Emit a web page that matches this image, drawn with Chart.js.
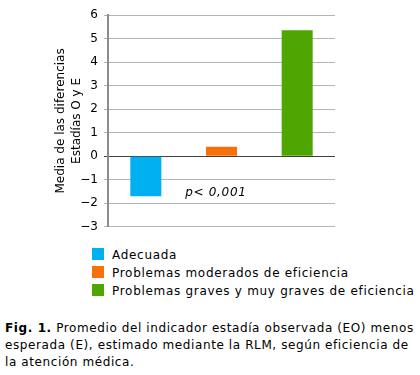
<!DOCTYPE html>
<html>
<head>
<meta charset="utf-8">
<script src="https://cdn.jsdelivr.net/npm/chart.js@4.4.0/dist/chart.umd.min.js"></script>
<style>
  body { margin: 0; background: #fff; font-family: "DejaVu Sans", Verdana, sans-serif; }
  #wrap { position: relative; width: 420px; height: 375px; overflow: hidden; }
  #box { position: absolute; left: 0; top: 0; width: 420px; height: 240px; }
  #legend { position: absolute; left: 92px; top: 246px; font-size: 12px; letter-spacing: 0.7px; color: #000; }
  #legend div { height: 18px; line-height: 18px; white-space: nowrap; }
  #legend span { display: inline-block; width: 12px; height: 12px; vertical-align: -1px; margin-right: 8px; }
  #caption { position: absolute; left: 5px; top: 320px; width: 418px; font-size: 12px; letter-spacing: 0.6px; line-height: 17px; color: #000; }
</style>
</head>
<body>
<div id="wrap">
  <div id="box"><canvas id="diffChart"></canvas></div>
  <div id="legend"></div>
  <div id="caption"><b>Fig. 1.</b> Promedio del indicador estadía observada (EO) menos esperada (E), estimado mediante la RLM, según eficiencia de la atención médica.</div>
</div>
<script>
// categorias y valores
const categories = ['Adecuada', 'Problemas moderados de eficiencia', 'Problemas graves y muy graves de eficiencia'];
const values = [-1.7, 0.4, 5.35];
const barColors = ['#00b0f0', '#f8700a', '#50a600'];
const yTicks = [-3, -2, -1, 0, 1, 2, 3, 4, 5, 6];
const pNote = 'p< 0,001';
const pNoteAt = [0.52, -1.55]; // x (category index), y (value)

// legend below the chart
const legendEl = document.getElementById('legend');
categories.forEach((c, i) => {
    const row = document.createElement('div');
    row.innerHTML = '<span style="background:' + barColors[i] + '"></span>' + c;
    legendEl.appendChild(row);
});

// p-value note drawn in data coordinates
const notePlugin = {
    id: 'pnote',
    afterDatasetsDraw(chart) {
        const ctx = chart.ctx;
        const x = chart.scales.x.getPixelForValue(pNoteAt[0]);
        const y = chart.scales.y.getPixelForValue(pNoteAt[1]);
        ctx.save();
        ctx.font = 'italic 12px "DejaVu Sans"';
        ctx.letterSpacing = '0.7px';
        ctx.fillStyle = '#000';
        ctx.textAlign = 'left';
        ctx.textBaseline = 'middle';
        ctx.fillText(pNote, x, y);
        ctx.restore();
    }
};

const ctx = document.getElementById('diffChart').getContext('2d');
const diffChart = new Chart(ctx, {
    type: 'bar',
    data: {
        labels: categories,
        datasets: [{
            data: values,
            backgroundColor: barColors,
            borderWidth: 0,
            barPercentage: 0.41,
            categoryPercentage: 1
        }]
    },
    options: {
        responsive: true,
        maintainAspectRatio: false,
        animation: false,
        layout: { padding: { top: 15, right: 85, bottom: 8, left: 0 } },
        plugins: {
            legend: { display: false },
            tooltip: { enabled: false }
        },
        scales: {
            x: { display: false },
            y: {
                min: -3,
                max: 6,
                afterBuildTicks: (s) => { s.ticks = yTicks.map(v => ({ value: v })); },
                afterFit: (s) => { s.width = 108; },
                ticks: {
                    color: '#000',
                    font: { family: '"DejaVu Sans"', size: 12 },
                    padding: 6,
                    callback: (v) => v < 0 ? '\u2212' + Math.abs(v) : String(v)
                },
                grid: {
                    color: (c) => c.tick && c.tick.value === 0 ? '#404040' : '#b4b4b4',
                    tickLength: 4
                },
                border: { color: '#8c8c8c', width: 2 },
                title: {
                    display: true,
                    text: ['Media de las diferencias', 'Estadías O y E'],
                    color: '#000',
                    font: { family: '"DejaVu Sans"', size: 12, lineHeight: 1.4 },
                    padding: { top: 52, bottom: 8 }
                }
            }
        }
    },
    plugins: [notePlugin]
});
</script>
</body>
</html>
